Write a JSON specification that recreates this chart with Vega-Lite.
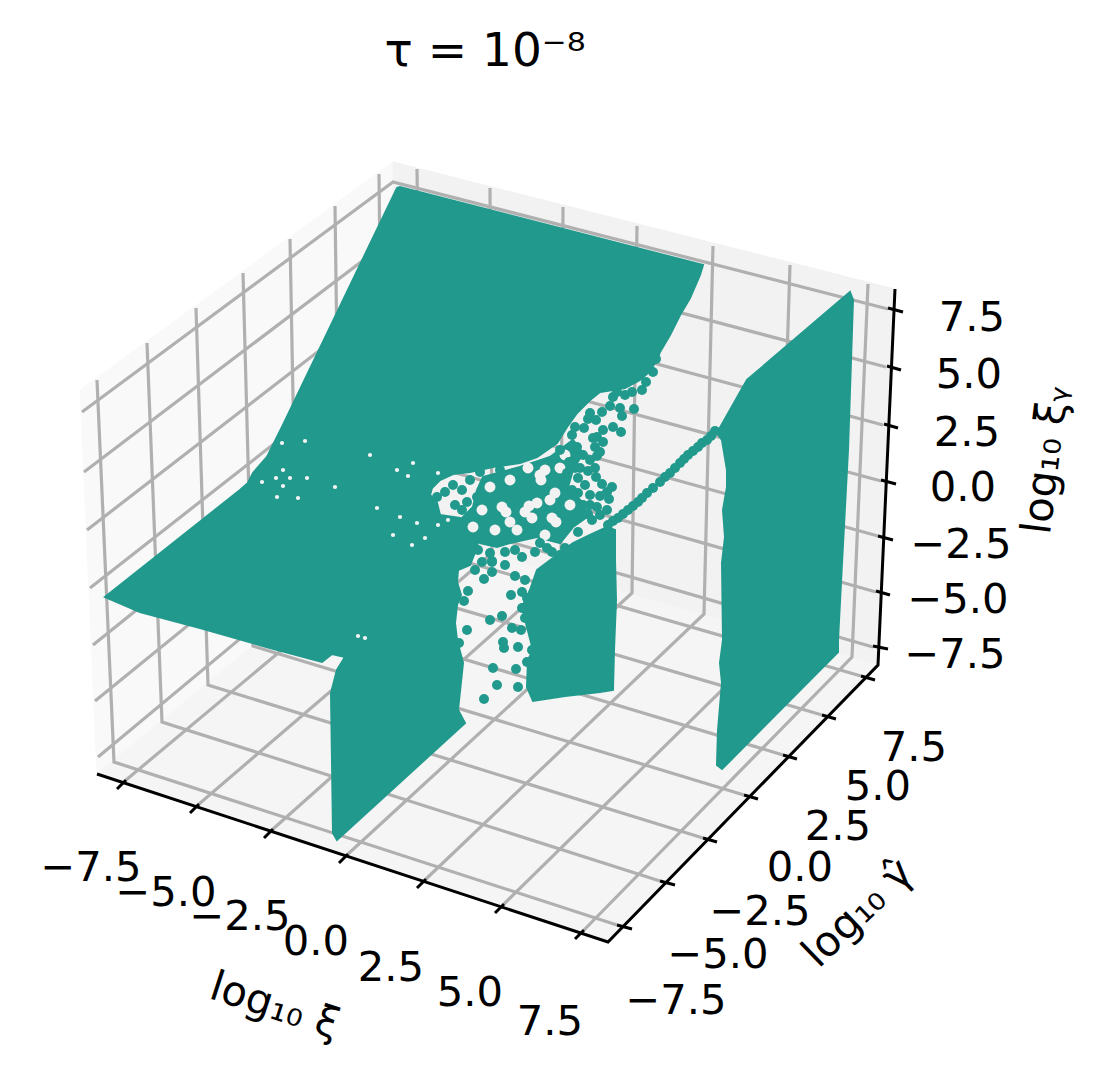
{"$schema":"https://vega.github.io/schema/vega-lite/v6.json","width":1112,"height":1077,"padding":0,"autosize":{"type":"fit","contains":"padding"},"background":"white","config":{"view":{"stroke":null},"font":"DejaVu Sans"},
"title":{"text":"τ = 10⁻⁸","font":"DejaVu Sans","fontSize":47,"fontWeight":"normal","color":"black","anchor":"middle","frame":"group","orient":"top","offset":-76,"dx":-71},
"datasets":{
"paneX":[{"seq":0,"u":80,"v":390},{"seq":1,"u":393,"v":162},{"seq":2,"u":397,"v":527},{"seq":3,"u":97,"v":774}],
"paneY":[{"seq":0,"u":393,"v":162},{"seq":1,"u":895,"v":289},{"seq":2,"u":878,"v":665},{"seq":3,"u":397,"v":527}],
"paneZ":[{"seq":0,"u":97,"v":774},{"seq":1,"u":608,"v":942},{"seq":2,"u":878,"v":665},{"seq":3,"u":397,"v":527}],
"grid":[
{"id":"x-7.5","seq":0,"u":126,"v":780},{"id":"x-7.5","seq":1,"u":422,"v":533},{"id":"x-7.5","seq":2,"u":417,"v":169},
{"id":"x-5","seq":0,"u":199,"v":804},{"id":"x-5","seq":1,"u":492,"v":553},{"id":"x-5","seq":2,"u":490,"v":188},
{"id":"x-2.5","seq":0,"u":273,"v":829},{"id":"x-2.5","seq":1,"u":561,"v":573},{"id":"x-2.5","seq":2,"u":563,"v":207},
{"id":"x0","seq":0,"u":348,"v":854},{"id":"x0","seq":1,"u":632,"v":593},{"id":"x0","seq":2,"u":637,"v":226},
{"id":"x2.5","seq":0,"u":426,"v":879},{"id":"x2.5","seq":1,"u":704,"v":614},{"id":"x2.5","seq":2,"u":713,"v":246},
{"id":"x5","seq":0,"u":504,"v":904},{"id":"x5","seq":1,"u":778,"v":635},{"id":"x5","seq":2,"u":790,"v":265},
{"id":"x7.5","seq":0,"u":584,"v":930},{"id":"x7.5","seq":1,"u":852,"v":657},{"id":"x7.5","seq":2,"u":868,"v":284},
{"id":"y-7.5","seq":0,"u":617,"v":925},{"id":"y-7.5","seq":1,"u":114,"v":762},{"id":"y-7.5","seq":2,"u":97,"v":380},
{"id":"y-5","seq":0,"u":660,"v":881},{"id":"y-5","seq":1,"u":162,"v":722},{"id":"y-5","seq":2,"u":147,"v":343},
{"id":"y-2.5","seq":0,"u":703,"v":838},{"id":"y-2.5","seq":1,"u":208,"v":685},{"id":"y-2.5","seq":2,"u":196,"v":308},
{"id":"y0","seq":0,"u":744,"v":795},{"id":"y0","seq":1,"u":253,"v":646},{"id":"y0","seq":2,"u":243,"v":273},
{"id":"y2.5","seq":0,"u":783,"v":755},{"id":"y2.5","seq":1,"u":297,"v":609},{"id":"y2.5","seq":2,"u":290,"v":239},
{"id":"y5","seq":0,"u":822,"v":715},{"id":"y5","seq":1,"u":340,"v":574},{"id":"y5","seq":2,"u":335,"v":206},
{"id":"y7.5","seq":0,"u":861,"v":676},{"id":"y7.5","seq":1,"u":383,"v":538},{"id":"y7.5","seq":2,"u":379,"v":174},
{"id":"z7.5","seq":0,"u":82,"v":412},{"id":"z7.5","seq":1,"u":393,"v":182},{"id":"z7.5","seq":2,"u":888,"v":309},
{"id":"z5","seq":0,"u":84,"v":472},{"id":"z5","seq":1,"u":394,"v":237},{"id":"z5","seq":2,"u":886,"v":367},
{"id":"z2.5","seq":0,"u":87,"v":530},{"id":"z2.5","seq":1,"u":394,"v":293},{"id":"z2.5","seq":2,"u":883,"v":425},
{"id":"z0","seq":0,"u":90,"v":588},{"id":"z0","seq":1,"u":395,"v":349},{"id":"z0","seq":2,"u":881,"v":481},
{"id":"z-2.5","seq":0,"u":93,"v":645},{"id":"z-2.5","seq":1,"u":395,"v":402},{"id":"z-2.5","seq":2,"u":878,"v":536},
{"id":"z-5","seq":0,"u":95,"v":701},{"id":"z-5","seq":1,"u":396,"v":456},{"id":"z-5","seq":2,"u":876,"v":592},
{"id":"z-7.5","seq":0,"u":98,"v":757},{"id":"z-7.5","seq":1,"u":396,"v":509},{"id":"z-7.5","seq":2,"u":873,"v":647}],
"axes":[
{"id":"frame","seq":0,"u":97,"v":774},{"id":"frame","seq":1,"u":608,"v":942},{"id":"frame","seq":2,"u":878,"v":665},{"id":"frame","seq":3,"u":895,"v":289},
{"id":"tx1","seq":0,"u":126,"v":780},{"id":"tx1","seq":1,"u":117,"v":789},{"id":"tx2","seq":0,"u":199,"v":804},{"id":"tx2","seq":1,"u":190,"v":813},{"id":"tx3","seq":0,"u":273,"v":829},{"id":"tx3","seq":1,"u":264,"v":838},{"id":"tx4","seq":0,"u":348,"v":854},{"id":"tx4","seq":1,"u":339,"v":863},{"id":"tx5","seq":0,"u":426,"v":879},{"id":"tx5","seq":1,"u":417,"v":888},{"id":"tx6","seq":0,"u":504,"v":904},{"id":"tx6","seq":1,"u":495,"v":913},{"id":"tx7","seq":0,"u":584,"v":930},{"id":"tx7","seq":1,"u":575,"v":939},
{"id":"ty1","seq":0,"u":617,"v":925},{"id":"ty1","seq":1,"u":632,"v":929},{"id":"ty2","seq":0,"u":660,"v":881},{"id":"ty2","seq":1,"u":675,"v":885},{"id":"ty3","seq":0,"u":703,"v":838},{"id":"ty3","seq":1,"u":717,"v":842},{"id":"ty4","seq":0,"u":744,"v":795},{"id":"ty4","seq":1,"u":758,"v":799},{"id":"ty5","seq":0,"u":783,"v":755},{"id":"ty5","seq":1,"u":797,"v":759},{"id":"ty6","seq":0,"u":822,"v":715},{"id":"ty6","seq":1,"u":836,"v":719},{"id":"ty7","seq":0,"u":861,"v":676},{"id":"ty7","seq":1,"u":875,"v":680},
{"id":"tz1","seq":0,"u":888,"v":308},{"id":"tz1","seq":1,"u":903,"v":312},{"id":"tz2","seq":0,"u":887,"v":366},{"id":"tz2","seq":1,"u":901,"v":370},{"id":"tz3","seq":0,"u":884,"v":424},{"id":"tz3","seq":1,"u":898,"v":428},{"id":"tz4","seq":0,"u":881,"v":480},{"id":"tz4","seq":1,"u":896,"v":484},{"id":"tz5","seq":0,"u":878,"v":536},{"id":"tz5","seq":1,"u":893,"v":540},{"id":"tz6","seq":0,"u":876,"v":591},{"id":"tz6","seq":1,"u":890,"v":595},{"id":"tz7","seq":0,"u":873,"v":646},{"id":"tz7","seq":1,"u":888,"v":649}],
"sheets":[
{"id":"a","seq":0,"u":397,"v":188},{"id":"a","seq":1,"u":400,"v":187},{"id":"a","seq":2,"u":703,"v":265},{"id":"a","seq":3,"u":700,"v":275},{"id":"a","seq":4,"u":690,"v":298},{"id":"a","seq":5,"u":680,"v":315},{"id":"a","seq":6,"u":670,"v":335},{"id":"a","seq":7,"u":660,"v":352},{"id":"a","seq":8,"u":657,"v":360},{"id":"a","seq":9,"u":649,"v":372},{"id":"a","seq":10,"u":640,"v":380},{"id":"a","seq":11,"u":625,"v":388},{"id":"a","seq":12,"u":613,"v":390},{"id":"a","seq":13,"u":600,"v":392},{"id":"a","seq":14,"u":590,"v":400},{"id":"a","seq":15,"u":577,"v":413},{"id":"a","seq":16,"u":567,"v":427},{"id":"a","seq":17,"u":557,"v":443},{"id":"a","seq":18,"u":537,"v":457},{"id":"a","seq":19,"u":520,"v":463},{"id":"a","seq":20,"u":493,"v":467},{"id":"a","seq":21,"u":470,"v":472},{"id":"a","seq":22,"u":453,"v":474},{"id":"a","seq":23,"u":440,"v":480},{"id":"a","seq":24,"u":432,"v":488},{"id":"a","seq":25,"u":430,"v":495},{"id":"a","seq":26,"u":437,"v":503},{"id":"a","seq":27,"u":440,"v":515},{"id":"a","seq":28,"u":460,"v":518},{"id":"a","seq":29,"u":470,"v":525},{"id":"a","seq":30,"u":480,"v":535},{"id":"a","seq":31,"u":476,"v":550},{"id":"a","seq":32,"u":470,"v":565},{"id":"a","seq":33,"u":458,"v":570},{"id":"a","seq":34,"u":457,"v":582},{"id":"a","seq":35,"u":461,"v":595},{"id":"a","seq":36,"u":457,"v":605},{"id":"a","seq":37,"u":455,"v":623},{"id":"a","seq":38,"u":457,"v":640},{"id":"a","seq":39,"u":463,"v":663},{"id":"a","seq":40,"u":458,"v":710},{"id":"a","seq":41,"u":465,"v":723},{"id":"a","seq":42,"u":337,"v":840},{"id":"a","seq":43,"u":333,"v":833},{"id":"a","seq":44,"u":331,"v":693},{"id":"a","seq":45,"u":337,"v":670},{"id":"a","seq":46,"u":345,"v":657},{"id":"a","seq":47,"u":332,"v":654},{"id":"a","seq":48,"u":322,"v":662},{"id":"a","seq":49,"u":270,"v":648},{"id":"a","seq":50,"u":200,"v":628},{"id":"a","seq":51,"u":140,"v":612},{"id":"a","seq":52,"u":105,"v":597},{"id":"a","seq":53,"u":240,"v":490},{"id":"a","seq":54,"u":248,"v":483},{"id":"a","seq":55,"u":253,"v":473},{"id":"a","seq":56,"u":267,"v":457},{"id":"a","seq":57,"u":277,"v":437},{"id":"a","seq":58,"u":282,"v":427},
{"id":"b","seq":0,"u":537,"v":570},{"id":"b","seq":1,"u":573,"v":543},{"id":"b","seq":2,"u":590,"v":535},{"id":"b","seq":3,"u":607,"v":527},{"id":"b","seq":4,"u":615,"v":530},{"id":"b","seq":5,"u":615,"v":560},{"id":"b","seq":6,"u":616,"v":600},{"id":"b","seq":7,"u":614,"v":650},{"id":"b","seq":8,"u":613,"v":690},{"id":"b","seq":9,"u":600,"v":692},{"id":"b","seq":10,"u":565,"v":696},{"id":"b","seq":11,"u":533,"v":701},{"id":"b","seq":12,"u":527,"v":687},{"id":"b","seq":13,"u":528,"v":660},{"id":"b","seq":14,"u":533,"v":650},{"id":"b","seq":15,"u":527,"v":627},{"id":"b","seq":16,"u":522,"v":607},{"id":"b","seq":17,"u":530,"v":590},
{"id":"c","seq":0,"u":850,"v":292},{"id":"c","seq":1,"u":853,"v":300},{"id":"c","seq":2,"u":852,"v":330},{"id":"c","seq":3,"u":848,"v":450},{"id":"c","seq":4,"u":842,"v":563},{"id":"c","seq":5,"u":838,"v":640},{"id":"c","seq":6,"u":838,"v":652},{"id":"c","seq":7,"u":722,"v":769},{"id":"c","seq":8,"u":717,"v":765},{"id":"c","seq":9,"u":718,"v":730},{"id":"c","seq":10,"u":722,"v":683},{"id":"c","seq":11,"u":720,"v":663},{"id":"c","seq":12,"u":723,"v":640},{"id":"c","seq":13,"u":722,"v":563},{"id":"c","seq":14,"u":725,"v":537},{"id":"c","seq":15,"u":723,"v":510},{"id":"c","seq":16,"u":727,"v":487},{"id":"c","seq":17,"u":727,"v":470},{"id":"c","seq":18,"u":722,"v":440},{"id":"c","seq":19,"u":717,"v":433},{"id":"c","seq":20,"u":747,"v":380},
{"id":"d","seq":0,"u":483,"v":477},{"id":"d","seq":1,"u":520,"v":467},{"id":"d","seq":2,"u":550,"v":457},{"id":"d","seq":3,"u":573,"v":440},{"id":"d","seq":4,"u":583,"v":453},{"id":"d","seq":5,"u":573,"v":470},{"id":"d","seq":6,"u":568,"v":487},{"id":"d","seq":7,"u":583,"v":503},{"id":"d","seq":8,"u":587,"v":517},{"id":"d","seq":9,"u":573,"v":527},{"id":"d","seq":10,"u":560,"v":543},{"id":"d","seq":11,"u":537,"v":537},{"id":"d","seq":12,"u":510,"v":543},{"id":"d","seq":13,"u":497,"v":547},{"id":"d","seq":14,"u":480,"v":543},{"id":"d","seq":15,"u":470,"v":533},{"id":"d","seq":16,"u":460,"v":520},{"id":"d","seq":17,"u":473,"v":507},{"id":"d","seq":18,"u":477,"v":490}],
"dots":[
{"u":492,"v":562},{"u":492,"v":572},{"u":484,"v":579},{"u":515,"v":576},{"u":525,"v":580},{"u":511,"v":595},{"u":522,"v":592},{"u":527,"v":598},{"u":468,"v":591},{"u":464,"v":601},{"u":502,"v":616},{"u":490,"v":620},{"u":512,"v":628},{"u":521,"v":630},{"u":467,"v":630},{"u":503,"v":642},{"u":504,"v":648},{"u":518,"v":647},{"u":532,"v":650},{"u":459,"v":643},{"u":493,"v":668},{"u":516,"v":669},{"u":497,"v":685},{"u":518,"v":687},{"u":484,"v":699},{"u":522,"v":608},{"u":525,"v":618},{"u":527,"v":662},
{"u":656,"v":359},{"u":653,"v":372},{"u":646,"v":382},{"u":642,"v":390},{"u":634,"v":409},{"u":620,"v":408},{"u":610,"v":406},{"u":613,"v":397},{"u":602,"v":412},{"u":622,"v":416},{"u":621,"v":432},{"u":613,"v":427},{"u":603,"v":430},{"u":597,"v":437},{"u":593,"v":438},{"u":603,"v":442},{"u":595,"v":447},{"u":600,"v":452},{"u":597,"v":456},{"u":588,"v":419},{"u":584,"v":428},{"u":575,"v":427},{"u":572,"v":435},{"u":577,"v":447},{"u":583,"v":455},{"u":569,"v":462},{"u":580,"v":468},{"u":575,"v":468},{"u":588,"v":471},{"u":567,"v":473},{"u":596,"v":477},{"u":602,"v":484},{"u":612,"v":487},{"u":607,"v":492},{"u":600,"v":496},{"u":609,"v":499},{"u":597,"v":507},{"u":588,"v":514},{"u":583,"v":505},{"u":578,"v":493},{"u":572,"v":490},{"u":453,"v":485},{"u":462,"v":490},{"u":445,"v":492},{"u":467,"v":502},{"u":477,"v":497},{"u":455,"v":505},{"u":540,"v":543},{"u":535,"v":552},{"u":522,"v":557},{"u":492,"v":561},{"u":547,"v":548},{"u":437,"v":497},{"u":617,"v":392},{"u":625,"v":395},{"u":632,"v":392},{"u":590,"v":413},{"u":596,"v":420},
{"u":590,"v":505},{"u":592,"v":520},{"u":578,"v":532},{"u":565,"v":548},{"u":552,"v":552},{"u":505,"v":552},{"u":515,"v":550},{"u":490,"v":553},{"u":478,"v":550},{"u":470,"v":540},{"u":458,"v":530},{"u":452,"v":522},{"u":462,"v":510},{"u":470,"v":480},{"u":480,"v":472},{"u":500,"v":470},{"u":560,"v":450},{"u":590,"v":460},{"u":595,"v":468},{"u":578,"v":478},{"u":585,"v":485},{"u":590,"v":495},{"u":600,"v":515},{"u":607,"v":510},{"u":560,"v":555},{"u":505,"v":565},{"u":482,"v":562},{"u":475,"v":570},
{"u":715,"v":431},{"u":711,"v":436},{"u":707,"v":440},{"u":702,"v":443},{"u":698,"v":447},{"u":693,"v":451},{"u":688,"v":455},{"u":684,"v":459},{"u":680,"v":463},{"u":675,"v":468},{"u":670,"v":473},{"u":665,"v":477},{"u":660,"v":482},{"u":653,"v":488},{"u":647,"v":493},{"u":642,"v":498},{"u":638,"v":502},{"u":633,"v":506},{"u":628,"v":510},{"u":623,"v":514},{"u":618,"v":518},{"u":613,"v":521},{"u":608,"v":525}],
"gaps":[{"u":283,"v":470},{"u":290,"v":478},{"u":283,"v":486},{"u":276,"v":478},{"u":305,"v":441},{"u":282,"v":443},{"u":370,"v":455},{"u":377,"v":508},{"u":400,"v":517},{"u":393,"v":535},{"u":417,"v":523},{"u":438,"v":525},{"u":448,"v":520},{"u":425,"v":538},{"u":412,"v":545},{"u":298,"v":498},{"u":262,"v":482},{"u":438,"v":473},{"u":408,"v":476},{"u":397,"v":470},{"u":335,"v":487},{"u":307,"v":478},{"u":277,"v":497},{"u":413,"v":463},{"u":365,"v":638},{"u":358,"v":636}],
"wideGaps":[{"u":528,"v":468},{"u":540,"v":475},{"u":502,"v":507},{"u":525,"v":512},{"u":552,"v":518},{"u":473,"v":527},{"u":545,"v":470},{"u":560,"v":468},{"u":555,"v":493},{"u":517,"v":530},{"u":495,"v":530},{"u":537,"v":503},{"u":532,"v":518},{"u":510,"v":522},{"u":490,"v":487},{"u":510,"v":480},{"u":482,"v":510},{"u":545,"v":535},{"u":570,"v":505},{"u":565,"v":455},{"u":506,"v":512},{"u":529,"v":506},{"u":556,"v":522},{"u":541,"v":480},{"u":550,"v":500}],
"ticksText":[
{"t":"−7.5","u":91,"v":868},{"t":"−5.0","u":166,"v":893},{"t":"−2.5","u":240,"v":917},{"t":"0.0","u":316,"v":942},{"t":"2.5","u":391,"v":968},{"t":"5.0","u":470,"v":993},{"t":"7.5","u":550,"v":1022},
{"t":"7.5","u":914,"v":748},{"t":"5.0","u":878,"v":787},{"t":"2.5","u":838,"v":827},{"t":"0.0","u":800,"v":868},{"t":"−2.5","u":760,"v":912},{"t":"−5.0","u":718,"v":955},{"t":"−7.5","u":676,"v":1001},
{"t":"7.5","u":972,"v":318},{"t":"5.0","u":969,"v":375},{"t":"2.5","u":967,"v":433},{"t":"0.0","u":963,"v":488},{"t":"−2.5","u":961,"v":545},{"t":"−5.0","u":958,"v":600},{"t":"−7.5","u":955,"v":655}]
},
"encoding":{"x":{"field":"u","type":"quantitative","scale":{"domain":[0,1112],"nice":false,"zero":false},"axis":null},"y":{"field":"v","type":"quantitative","scale":{"domain":[1077,0],"nice":false,"zero":false},"axis":null}},
"layer":[
{"data":{"name":"paneX"},"mark":{"type":"line","fill":"#f9f9f9","stroke":"#f9f9f9","strokeWidth":1,"interpolate":"linear-closed"},"encoding":{"order":{"field":"seq"}}},
{"data":{"name":"paneY"},"mark":{"type":"line","fill":"#f2f2f2","stroke":"#f2f2f2","strokeWidth":1,"interpolate":"linear-closed"},"encoding":{"order":{"field":"seq"}}},
{"data":{"name":"paneZ"},"mark":{"type":"line","fill":"#f5f5f5","stroke":"#f5f5f5","strokeWidth":1,"interpolate":"linear-closed"},"encoding":{"order":{"field":"seq"}}},
{"data":{"name":"grid"},"mark":{"type":"line","stroke":"#b0b0b0","strokeWidth":3.2},"encoding":{"detail":{"field":"id"},"order":{"field":"seq"}}},
{"data":{"name":"axes"},"mark":{"type":"line","stroke":"black","strokeWidth":3},"encoding":{"detail":{"field":"id"},"order":{"field":"seq"}}},
{"data":{"name":"sheets"},"mark":{"type":"line","fill":"#21998c","stroke":"#21998c","strokeWidth":2,"interpolate":"linear-closed"},"encoding":{"detail":{"field":"id"},"order":{"field":"seq"}}},
{"data":{"name":"wideGaps"},"mark":{"type":"circle","size":120,"color":"#f2f2f2","opacity":1}},
{"data":{"name":"dots"},"mark":{"type":"circle","size":100,"color":"#21998c","opacity":1}},
{"data":{"name":"gaps"},"mark":{"type":"circle","size":18,"color":"#f6f6f6","opacity":1}},
{"data":{"name":"ticksText"},"mark":{"type":"text","font":"DejaVu Sans","fontSize":41.7,"color":"black","align":"center","baseline":"middle"},"encoding":{"text":{"field":"t"}}},
{"data":{"values":[{"t":"log₁₀ ξ","u":275,"v":1006}]},"mark":{"type":"text","font":"DejaVu Sans","fontSize":41.7,"color":"black","align":"center","baseline":"middle","angle":18},"encoding":{"text":{"field":"t"}}},
{"data":{"values":[{"t":"log₁₀ γ̂","u":858,"v":913}]},"mark":{"type":"text","font":"DejaVu Sans","fontSize":41.7,"color":"black","align":"center","baseline":"middle","angle":-44},"encoding":{"text":{"field":"t"}}},
{"data":{"values":[{"t":"log₁₀ ξᵧ","u":1046,"v":460}]},"mark":{"type":"text","font":"DejaVu Sans","fontSize":41.7,"color":"black","align":"center","baseline":"middle","angle":-83},"encoding":{"text":{"field":"t"}}}
]}
